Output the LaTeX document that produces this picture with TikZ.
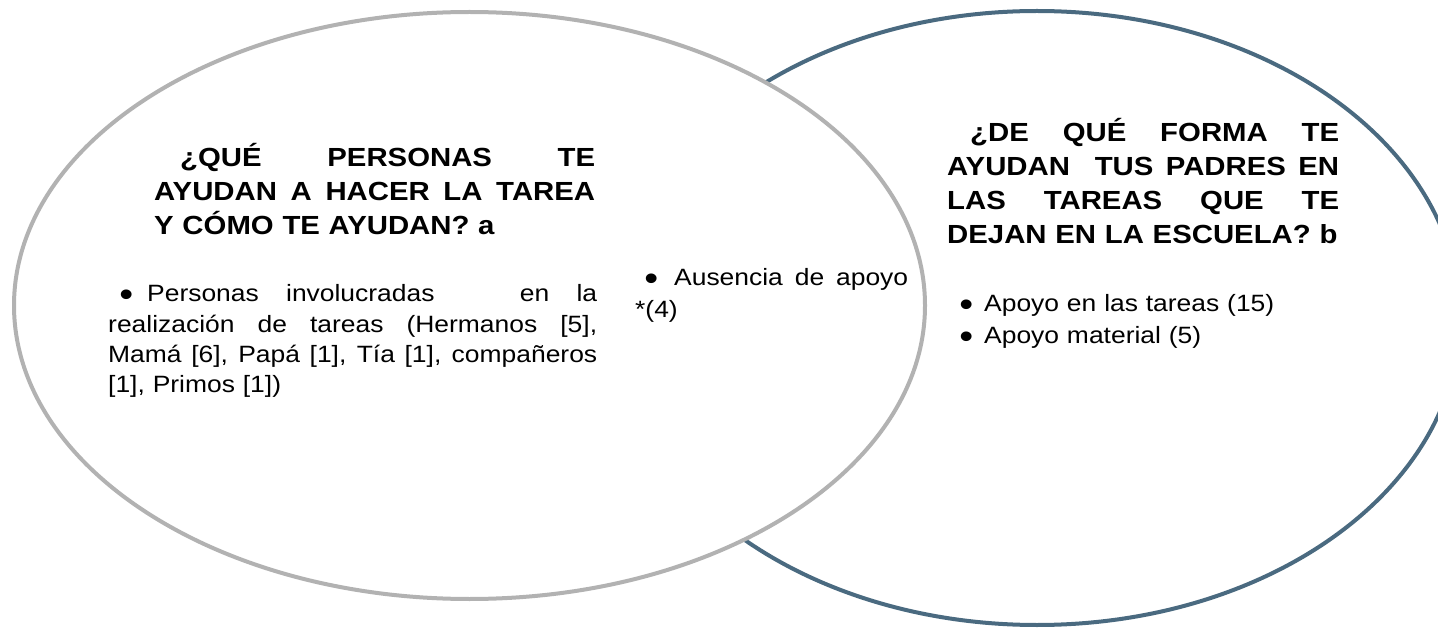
\documentclass[tikz,border=0pt]{standalone}
\usepackage{fontspec}
\setmainfont{Liberation Sans}[FakeStretch=1.12]
\usepackage{graphicx}
\usepackage{tikz}
\definecolor{setgray}{RGB}{178,178,178}
\definecolor{setblue}{RGB}{74,106,128}
\newcommand{\jline}[2]{\hbox to #1{\spaceskip=0.28em plus 1fil\relax #2}}
\newcommand{\bulletat}[1]{\leavevmode\llap{\raisebox{-0.17em}{\scalebox{1.5}{\textbullet}}\hspace{#1}}}

\begin{document}
\begin{tikzpicture}[x = 1pt, y = -1pt,
        heading/.style = {anchor = base west, inner sep = 0pt, text width = #1,
            font = \fontsize{26.2}{34}\selectfont\bfseries},
        itemtext/.style = {anchor = base west, inner sep = 0pt, text width = #1,
            font = \fontsize{23.6}{30.3}\selectfont}]
            \clip (0, 0) rectangle (1438, 628);

            \filldraw[color = setblue, fill = white, line width = 4pt](1037, 318) ellipse [x radius = 423, y radius = 307];
            \filldraw[color = setgray, fill = white, line width = 4pt](469.5, 305.5) ellipse [x radius = 455.5, y radius = 293.5];

            \node[heading = 441pt] (headA) at (154, 167) {\leavevmode\hspace*{26pt}\jline{415pt}{¿QUÉ PERSONAS TE}\par
                \leavevmode\jline{441pt}{AYUDAN A HACER LA TAREA}\par
                Y CÓMO TE AYUDAN? a};
            \node[itemtext = 489pt] (listA) at (108, 302) {\leavevmode\hspace*{39pt}\bulletat{14pt}\jline{450pt}{Personas involucradas\hspace{58pt} en la}\par
                \leavevmode\jline{489pt}{realización de tareas (Hermanos [5],}\par
                \leavevmode\jline{489pt}{Mamá [6], Papá [1], Tía [1], compañeros}\par
                [1], Primos [1])};

            \node[itemtext = 273pt, font = \fontsize{23.6}{32}\selectfont] (listAB) at (635, 286) {\leavevmode\hspace*{39pt}\bulletat{16pt}\jline{234pt}{Ausencia de apoyo}\par
                *(4)};

            \node[heading = 392pt] (headB) at (947, 142) {\leavevmode\hspace*{23pt}\jline{369pt}{¿DE QUÉ FORMA TE}\par
                \leavevmode\jline{392pt}{AYUDAN\ \ TUS PADRES EN}\par
                \leavevmode\jline{392pt}{LAS TAREAS QUE TE}\par
                DEJAN EN LA ESCUELA? b};
            \node[itemtext = 300pt, font = \fontsize{23.6}{32}\selectfont] (listB) at (984, 312) {\bulletat{11pt}Apoyo en las tareas (15)\par
                \bulletat{11pt}Apoyo material (5)};

        \end{tikzpicture}
\end{document}
